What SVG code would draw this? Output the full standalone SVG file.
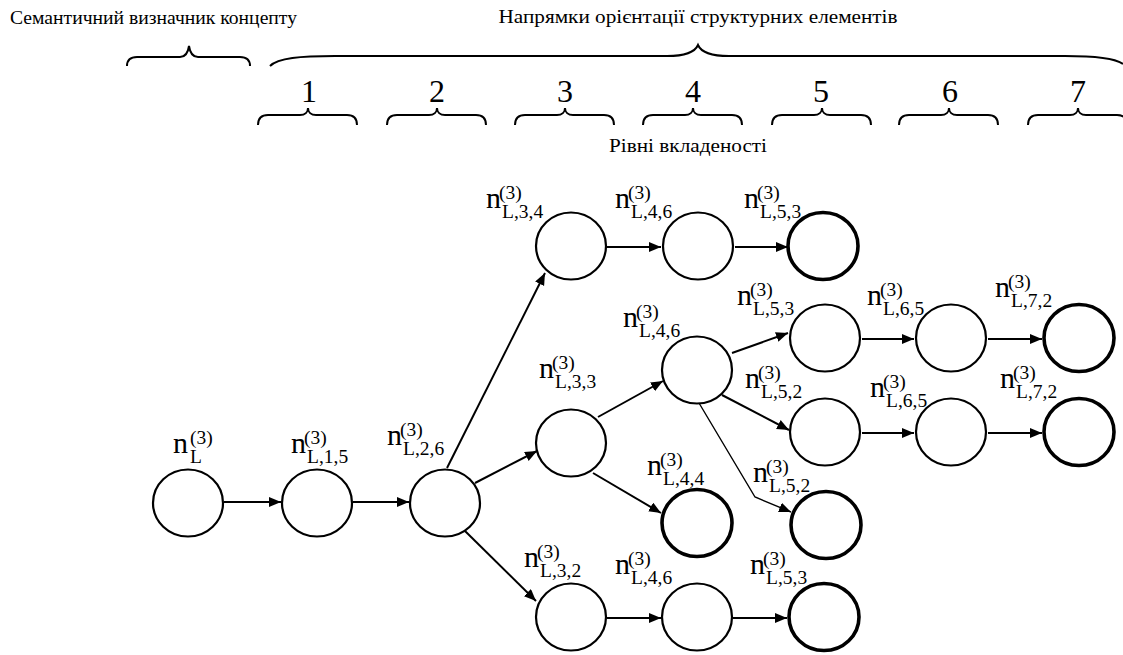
<svg xmlns="http://www.w3.org/2000/svg" width="1123" height="655" viewBox="0 0 1123 655" font-family="'Liberation Serif', 'Times New Roman', serif">
<style>
text{font-family:'Liberation Serif','Times New Roman',serif;fill:#000}
.hdr{font-size:19.5px}
.dig{font-size:32px;text-anchor:middle}
.n{font-size:30px}
.s{font-size:19.5px}
.node{fill:#fff;stroke:#000;stroke-width:2.2}
.leaf{fill:#fff;stroke:#000;stroke-width:3.6}
.brace{fill:none;stroke:#000;stroke-width:2}
.edge{fill:none;stroke:#000;stroke-width:2;marker-end:url(#ah)}
.thin{stroke-width:1.4}
</style>
<defs>
<marker id="ah" markerUnits="userSpaceOnUse" markerWidth="13" markerHeight="11" refX="12" refY="5" orient="auto">
<path d="M0,0 L12,5 L0,10 Z" fill="#000"/>
</marker>
<path id="sb" d="M0,10 C0,3 3,0 10,0 L42,0 C47,0 50,-3 50,-7 C50,-3 53,0 58,0 L89,0 C96,0 99,3 99,10"/>
</defs>

<g id="headers">
<text class="hdr" x="10" y="24" textLength="287" lengthAdjust="spacingAndGlyphs">Семантичний визначник концепту</text>
<text class="hdr" x="698" y="23" text-anchor="middle" textLength="399" lengthAdjust="spacingAndGlyphs">Напрямки орієнтації структурних елементів</text>
<text class="hdr" x="688" y="152" text-anchor="middle" textLength="158" lengthAdjust="spacingAndGlyphs">Рівні вкладеності</text>
<path class="brace" d="M127,66 C127,60 130,57 137,57 L180,57 C185,57 188,53 189,46 C190,53 193,57 198,57 L240,57 C247,57 250,60 250,66"/>
<path class="brace" d="M270,66 C278,58 300,56 335,56 L667,56 C685,56 695,52 698,45 C701,52 711,56 729,56 L1065,56 C1095,56 1115,58 1123,64"/>
<use href="#sb" class="brace" x="258" y="115"/>
<use href="#sb" class="brace" x="387" y="115"/>
<use href="#sb" class="brace" x="515" y="115"/>
<use href="#sb" class="brace" x="643" y="115"/>
<use href="#sb" class="brace" x="772" y="115"/>
<use href="#sb" class="brace" x="899" y="115"/>
<use href="#sb" class="brace" x="1028" y="115"/>
<text class="dig" x="309" y="102">1</text>
<text class="dig" x="437" y="102">2</text>
<text class="dig" x="565" y="102">3</text>
<text class="dig" x="693" y="102">4</text>
<text class="dig" x="821" y="102">5</text>
<text class="dig" x="950" y="102">6</text>
<text class="dig" x="1078" y="102">7</text>
</g>

<g id="connectors">
<line class="edge" x1="224" y1="502" x2="281" y2="502"/>
<line class="edge" x1="353" y1="502" x2="409" y2="502"/>
<line class="edge" x1="447" y1="468" x2="545" y2="273"/>
<line class="edge" x1="475" y1="483" x2="537" y2="451"/>
<line class="edge" x1="465" y1="531" x2="536" y2="601"/>
<line class="edge" x1="607" y1="247" x2="661" y2="247"/>
<line class="edge" x1="735" y1="247" x2="788" y2="247"/>
<line class="edge" x1="598" y1="417" x2="663" y2="381"/>
<line class="edge" x1="593" y1="473" x2="661" y2="513"/>
<line class="edge" x1="732" y1="353" x2="788" y2="333"/>
<line class="edge" x1="722" y1="395" x2="789" y2="430"/>
<polyline class="edge thin" points="699,403 755,497 791,512"/>
<line class="edge" x1="862" y1="339" x2="914" y2="339"/>
<line class="edge" x1="988" y1="339" x2="1042" y2="339"/>
<line class="edge" x1="862" y1="433" x2="914" y2="433"/>
<line class="edge" x1="988" y1="433" x2="1042" y2="433"/>
<line class="edge" x1="607" y1="618" x2="661" y2="618"/>
<line class="edge" x1="733" y1="618" x2="787" y2="618"/>
</g>

<g id="nL"><ellipse class="node" cx="188" cy="503" rx="35" ry="33.5"/>
<text class="n" x="173" y="453">n</text><text class="s" x="190" y="444">(3)</text><text class="s" x="190" y="463">L</text></g>
<g id="nL15"><ellipse class="node" cx="317" cy="503" rx="35" ry="33.5"/>
<text class="n" x="291" y="453">n</text><text class="s" x="304" y="444">(3)</text><text class="s" x="307" y="463">L,1,5</text></g>
<g id="nL26"><ellipse class="node" cx="445" cy="503" rx="35" ry="33.5"/>
<text class="n" x="387" y="445">n</text><text class="s" x="400" y="436">(3)</text><text class="s" x="403" y="455">L,2,6</text></g>
<g id="nL34"><ellipse class="node" cx="571" cy="246" rx="35" ry="33.5"/>
<text class="n" x="486" y="208">n</text><text class="s" x="499" y="199">(3)</text><text class="s" x="502" y="218">L,3,4</text></g>
<g id="nL46a"><ellipse class="node" cx="698" cy="246" rx="35" ry="33.5"/>
<text class="n" x="615" y="208">n</text><text class="s" x="628" y="199">(3)</text><text class="s" x="631" y="218">L,4,6</text></g>
<g id="nL53a"><ellipse class="leaf" cx="823" cy="246" rx="35" ry="33.5"/>
<text class="n" x="744" y="208">n</text><text class="s" x="757" y="199">(3)</text><text class="s" x="760" y="218">L,5,3</text></g>
<g id="nL33"><ellipse class="node" cx="571" cy="443" rx="35" ry="33.5"/>
<text class="n" x="539" y="378">n</text><text class="s" x="552" y="369">(3)</text><text class="s" x="555" y="388">L,3,3</text></g>
<g id="nL46b"><ellipse class="node" cx="697" cy="370" rx="35" ry="33.5"/>
<text class="n" x="623" y="327">n</text><text class="s" x="636" y="318">(3)</text><text class="s" x="639" y="337">L,4,6</text></g>
<g id="nL53b"><ellipse class="node" cx="825" cy="338" rx="35" ry="33.5"/>
<text class="n" x="737" y="305">n</text><text class="s" x="750" y="296">(3)</text><text class="s" x="753" y="315">L,5,3</text></g>
<g id="nL65a"><ellipse class="node" cx="951" cy="338" rx="35" ry="33.5"/>
<text class="n" x="867" y="305">n</text><text class="s" x="880" y="296">(3)</text><text class="s" x="883" y="315">L,6,5</text></g>
<g id="nL72a"><ellipse class="leaf" cx="1079" cy="338" rx="35" ry="33.5"/>
<text class="n" x="995" y="297">n</text><text class="s" x="1008" y="288">(3)</text><text class="s" x="1011" y="307">L,7,2</text></g>
<g id="nL52a"><ellipse class="node" cx="825" cy="432" rx="35" ry="33.5"/>
<text class="n" x="745" y="388">n</text><text class="s" x="758" y="379">(3)</text><text class="s" x="761" y="398">L,5,2</text></g>
<g id="nL65b"><ellipse class="node" cx="951" cy="432" rx="35" ry="33.5"/>
<text class="n" x="870" y="397">n</text><text class="s" x="883" y="388">(3)</text><text class="s" x="886" y="407">L,6,5</text></g>
<g id="nL72b"><ellipse class="leaf" cx="1079" cy="432" rx="35" ry="33.5"/>
<text class="n" x="1000" y="388">n</text><text class="s" x="1013" y="379">(3)</text><text class="s" x="1016" y="398">L,7,2</text></g>
<g id="nL44"><ellipse class="leaf" cx="697" cy="523" rx="35" ry="33.5"/>
<text class="n" x="647" y="475">n</text><text class="s" x="660" y="466">(3)</text><text class="s" x="663" y="485">L,4,4</text></g>
<g id="nL52b"><ellipse class="leaf" cx="826" cy="525" rx="35" ry="33.5"/>
<text class="n" x="753" y="482">n</text><text class="s" x="766" y="473">(3)</text><text class="s" x="769" y="492">L,5,2</text></g>
<g id="nL32"><ellipse class="node" cx="571" cy="617" rx="35" ry="33.5"/>
<text class="n" x="524" y="567">n</text><text class="s" x="537" y="558">(3)</text><text class="s" x="540" y="577">L,3,2</text></g>
<g id="nL46c"><ellipse class="node" cx="697" cy="617" rx="35" ry="33.5"/>
<text class="n" x="615" y="574">n</text><text class="s" x="628" y="565">(3)</text><text class="s" x="631" y="584">L,4,6</text></g>
<g id="nL53c"><ellipse class="leaf" cx="824" cy="617" rx="35" ry="33.5"/>
<text class="n" x="750" y="574">n</text><text class="s" x="763" y="565">(3)</text><text class="s" x="766" y="584">L,5,3</text></g>
</svg>
